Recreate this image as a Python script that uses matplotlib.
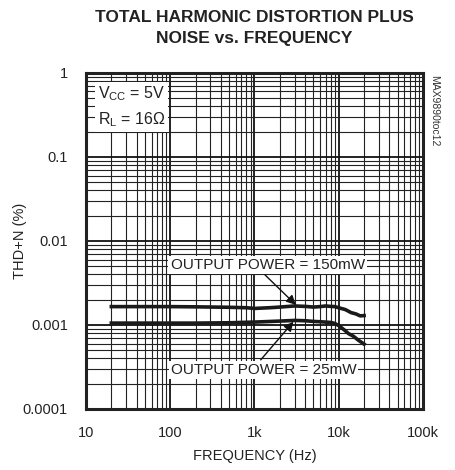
import matplotlib
matplotlib.use("Agg")
import matplotlib.pyplot as plt
from matplotlib.ticker import LogLocator, FixedLocator, FixedFormatter, NullFormatter

plt.rcParams['font.family'] = ['Liberation Sans', 'DejaVu Sans']

# THD+N (%) vs frequency (Hz)
freq_150 = [20, 50, 100, 200, 500, 800, 1000, 1500, 2000, 3000, 4000, 5000, 6000, 7000, 8000, 9000, 10000, 12000, 14000, 16000, 18000, 20000]
thd_150 = [0.00165, 0.00165, 0.00165, 0.00164, 0.00162, 0.00160, 0.00157, 0.00160, 0.00163, 0.00168, 0.00166, 0.00163, 0.00165, 0.00168, 0.00166, 0.00165, 0.00160, 0.00152, 0.00140, 0.00135, 0.00128, 0.00129]
freq_25 = [20, 50, 100, 200, 500, 1000, 2000, 3000, 4000, 5000, 6000, 8000, 9000, 10000, 11000, 12000, 13000, 15000, 17000, 20000]
thd_25 = [0.00105, 0.00105, 0.00105, 0.00105, 0.00106, 0.00108, 0.00111, 0.00113, 0.00112, 0.00110, 0.00109, 0.00107, 0.00104, 0.00098, 0.00091, 0.00085, 0.00079, 0.00073, 0.00066, 0.00059]

x_ticks = [10, 100, 1000, 10000, 100000]
x_labels = ['10', '100', '1k', '10k', '100k']
y_ticks = [0.0001, 0.001, 0.01, 0.1, 1]
y_labels = ['0.0001', '0.001', '0.01', '0.1', '1']

fig = plt.figure(figsize=(4.56, 4.70), dpi=100)
ax = fig.add_axes([0.1886, 0.130, 0.739, 0.715])

ax.set_xscale('log')
ax.set_yscale('log')
ax.set_xlim(10, 100000)
ax.set_ylim(0.0001, 1)

ax.xaxis.set_major_locator(FixedLocator(x_ticks))
ax.xaxis.set_major_formatter(FixedFormatter(x_labels))
ax.yaxis.set_major_locator(FixedLocator(y_ticks))
ax.yaxis.set_major_formatter(FixedFormatter(y_labels))
ax.xaxis.set_minor_locator(LogLocator(base=10, subs=range(2, 10), numticks=20))
ax.yaxis.set_minor_locator(LogLocator(base=10, subs=range(2, 10), numticks=20))
ax.xaxis.set_minor_formatter(NullFormatter())
ax.yaxis.set_minor_formatter(NullFormatter())

ax.grid(True, which='major', color='#111111', lw=1.3)
ax.grid(True, which='minor', color='#222222', lw=0.8)
ax.tick_params(which='both', length=0, labelsize=10.5, colors='#222222')
ax.tick_params(axis='y', pad=13)
ax.tick_params(axis='x', pad=12)
for s in ax.spines.values():
    s.set_linewidth(2.2)
    s.set_color('#222222')

ax.plot(freq_150, thd_150, color='#1a1a1a', lw=2.6, zorder=3)
ax.plot(freq_25, thd_25, color='#1a1a1a', lw=2.6, zorder=3)

box = dict(facecolor='white', edgecolor='none', pad=1.5)
ax.annotate('OUTPUT POWER = 150mW', xy=(3100, 0.00173), xytext=(1430, 0.0052),
            ha='center', va='center', fontsize=11, color='#222222', bbox=box,
            arrowprops=dict(arrowstyle='-|>', color='#111111', lw=1.0, mutation_scale=14,
                            relpos=(0.47, 0.0), shrinkA=1, shrinkB=0),
            zorder=4)
ax.annotate('OUTPUT POWER = 25mW', xy=(2900, 0.00109), xytext=(1280, 0.00029),
            ha='center', va='center', fontsize=11, color='#222222', bbox=box,
            arrowprops=dict(arrowstyle='-|>', color='#111111', lw=1.0, mutation_scale=14,
                            relpos=(0.47, 1.0), shrinkA=1, shrinkB=0),
            zorder=4)

ax.text(0.035, 0.965, '$\\mathregular{V_{CC}}$ = 5V\n$\\mathregular{R_L}$ = 16Ω', transform=ax.transAxes,
        ha='left', va='top', fontsize=11.5, color='#222222', linespacing=1.5,
        bbox=dict(facecolor='white', edgecolor='none', pad=2), zorder=4)

ax.set_xlabel('FREQUENCY (Hz)', fontsize=10.5, color='#222222', labelpad=7)
ax.set_ylabel('THD+N (%)', fontsize=10.5, color='#222222')
ax.yaxis.set_label_coords(-0.175, 0.5)
fig.suptitle('TOTAL HARMONIC DISTORTION PLUS\nNOISE vs. FREQUENCY', x=0.558, y=0.978,
             fontsize=12.5, fontweight='bold', color='#222222', linespacing=1.45)
fig.text(0.94, 0.84, 'MAX9890toc12', rotation=270, ha='left', va='top', fontsize=7.5, color='#333333')

fig.savefig('out.png', dpi=100)
